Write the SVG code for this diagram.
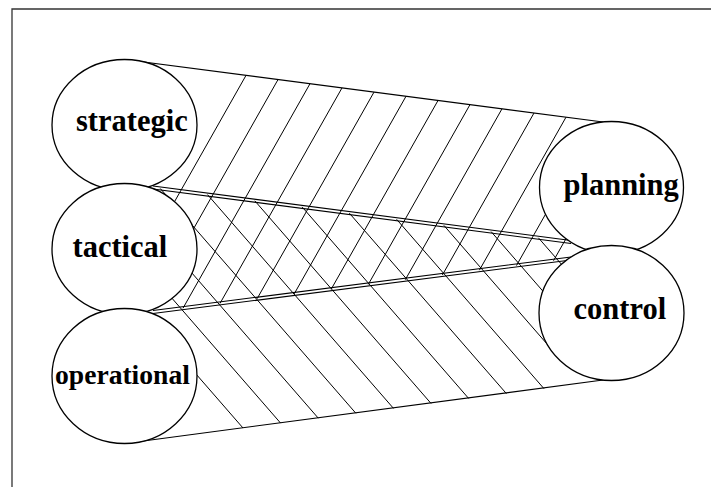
<svg xmlns="http://www.w3.org/2000/svg" width="711" height="487" viewBox="0 0 711 487">
  <style>
    .frame { stroke: #333; stroke-width: 1.3; fill: none; }
    .edge { stroke: #000; stroke-width: 1.1; fill: none; }
    .hatch { stroke: #000; stroke-width: 1; fill: none; }
    .node ellipse { fill: #fff; stroke: #000; stroke-width: 1.3; }
    .node text { font-family: "Liberation Serif", "Times New Roman", serif; font-weight: bold; fill: #000; }
  </style>

  <rect x="0" y="0" width="711" height="487" fill="#fff"/>
  <path class="frame" d="M12,487 L12,9 L711,9"/>

  <g id="connectors">
    <!-- "/" hatching: from the top edge down to the lower double line -->
    <path class="hatch" d="
      M246,75.4 L108.9,317.6
      M278,79.6 L145.9,312.9
      M310,83.7 L183,308.2
      M342,87.9 L220,303.4
      M374,92.1 L257.1,298.7
      M406,96.3 L294.2,293.9
      M438,100.5 L331.2,289.2
      M470,104.6 L368.3,284.4
      M502,108.8 L405.3,279.7
      M534,113 L442.4,275
      M566,117.2 L479.4,270.2
      M593.2,130 L516.5,265.5
      M587.9,200 L553.5,260.7"/>
    <!-- "\" hatching: from the upper double line down to the bottom edge -->
    <path class="hatch" d="
      M166.4,340 L243,428
      M130,250 L280.6,423.1
      M171.9,250 L318.3,418.2
      M160.3,188.5 L355.9,413.3
      M207.5,194.6 L393.5,408.4
      M254.8,200.8 L431.1,403.5
      M302.1,206.9 L468.7,398.5
      M349.3,213.1 L506.4,393.6
      M396.6,219.3 L544,388.7
      M443.9,225.4 L556.6,355
      M491.1,231.6 L550.6,300
      M538.4,237.8 L570.8,275"/>

    <!-- outer edges of the band -->
    <path class="edge" d="M124.5,59.5 L603,122"/>
    <path class="edge" d="M124.5,443.5 L603,380"/>

    <!-- double lines between the levels -->
    <path class="edge" d="M153,186 L571,240.5 M153,189 L571,243.5"/>
    <path class="edge" d="M153,310.5 L571,257 M153,313.5 L571,260"/>
  </g>

  <g id="strategic" class="node">
    <ellipse cx="124.5" cy="125" rx="72.5" ry="65.5"/>
    <text x="76" y="131" font-size="30.5">strategic</text>
  </g>
  <g id="tactical" class="node">
    <ellipse cx="124.5" cy="249" rx="72.5" ry="65.5"/>
    <text x="72.5" y="257" font-size="30.5">tactical</text>
  </g>
  <g id="operational" class="node">
    <ellipse cx="124.5" cy="376" rx="72.5" ry="67.5"/>
    <text x="55" y="383.5" font-size="27.6">operational</text>
  </g>
  <g id="planning" class="node">
    <ellipse cx="611.5" cy="187.5" rx="72" ry="66"/>
    <text x="563.5" y="195" font-size="30.5">planning</text>
  </g>
  <g id="control" class="node">
    <ellipse cx="611.5" cy="313" rx="72.5" ry="67.5"/>
    <text x="573.5" y="319" font-size="30.5">control</text>
  </g>
</svg>
